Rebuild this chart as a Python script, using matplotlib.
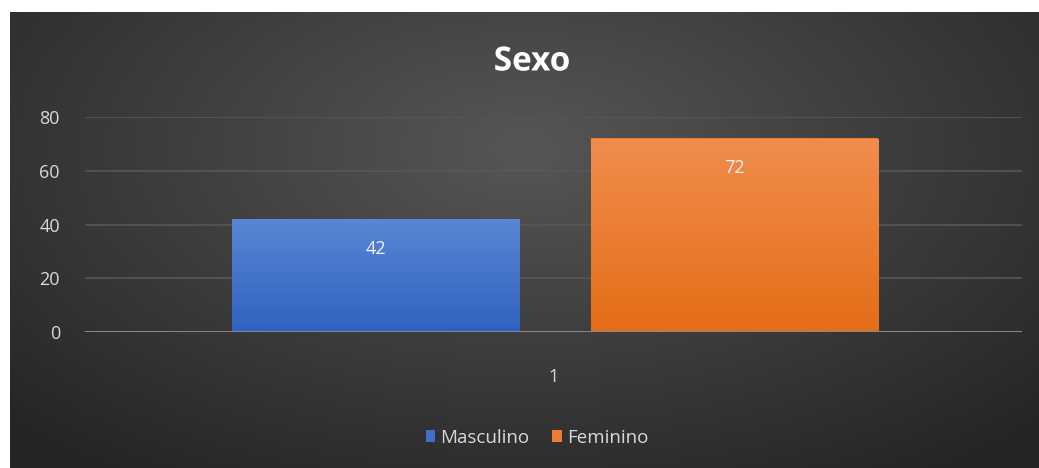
import numpy as np
import matplotlib.pyplot as plt
import matplotlib.patheffects as pe

categorias = ["1"]
series = ["Masculino", "Feminino"]
valores = [42, 72]
cores = ["#3f6fc8", "#ed7d31"]
cores_topo = ["#5a86d4", "#f18d4d"]
cores_base = ["#2f62c0", "#e46d17"]

W, H = 1039, 468
fig = plt.figure(figsize=(W / 100, H / 100), dpi=100)
fig.patch.set_facecolor("white")

# fundo com gradiente radial
bg = fig.add_axes([10 / W, 0, 1 - 10 / W, 1 - 12 / H])
bg.set_axis_off()
yy, xx = np.mgrid[-1:1:300j, -1:1:600j]
r = np.sqrt((xx * 0.85) ** 2 + ((yy + 0.4) * 0.7) ** 2)
r = np.clip(r / 1.2, 0, 1)
c0 = np.array([0x56, 0x56, 0x56]) / 255
c1 = np.array([0x25, 0x25, 0x25]) / 255
img = c0[None, None, :] * (1 - r[..., None]) + c1[None, None, :] * r[..., None]
bg.imshow(img, aspect="auto", extent=[0, 1, 0, 1])
bg.set_xlim(0, 1)
bg.set_ylim(0, 1)

ax = fig.add_axes([85 / W, 1 - 332 / H, (1022 - 85) / W, (332 - 117) / H])
ax.set_facecolor("none")

x = np.arange(len(categorias))
largura = 0.307
desloc = [-0.19, 0.193]
for i, (nome, v) in enumerate(zip(series, valores)):
    b = ax.bar(x + desloc[i], [v], largura, color=cores[i], label=nome, zorder=3)
    for rect in b:
        x0, x1 = rect.get_x(), rect.get_x() + rect.get_width()
        grad = np.linspace(0, 1, 100)[:, None]
        ct = np.array(plt.matplotlib.colors.to_rgb(cores_topo[i]))
        cb = np.array(plt.matplotlib.colors.to_rgb(cores_base[i]))
        gimg = ct[None, None, :] * (1 - grad[..., None]) + cb[None, None, :] * grad[..., None]
        gimg = np.repeat(gimg, 2, axis=1)
        im = ax.imshow(gimg, extent=[x0, x1, 0, v], aspect="auto", zorder=4)
        im.set_clip_path(rect)
        ax.text(rect.get_x() + rect.get_width() / 2, v - 11, str(v),
                ha="center", va="center", color="#f2f2f2", fontsize=13,
                family="Open Sans", zorder=5)
ax.set_xlim(-0.5, 0.5)
ax.set_ylim(0, 80)

ax.set_yticks(np.arange(0, 81, 20))
ax.set_xticks(x)
ax.set_xticklabels(categorias)
ax.yaxis.grid(True, color="#575757", linewidth=1.2, zorder=0)
ax.axhline(0, color="#8c8c8c", linewidth=2, zorder=6)
for s in ax.spines.values():
    s.set_visible(False)
ax.tick_params(axis="both", length=0, colors="#d9d9d9", labelsize=13)
ax.tick_params(axis="x", pad=26)
ax.tick_params(axis="y", pad=18)
for lbl in ax.get_xticklabels() + ax.get_yticklabels():
    lbl.set_family("Open Sans")

fig.text(532 / W, 1 - 62 / H, "Sexo", ha="center", va="center", color="white",
         fontsize=24, fontweight="bold", family="Open Sans",
         path_effects=[pe.withSimplePatchShadow(offset=(1.5, -1.5), alpha=0.6)])

leg = fig.legend(loc="center", bbox_to_anchor=(537 / W, 1 - 438 / H), ncol=2,
                 frameon=False, handlelength=0.5, handleheight=0.6,
                 handletextpad=0.3, columnspacing=1.2,
                 prop={"family": "Open Sans", "size": 13.5})
for t in leg.get_texts():
    t.set_color("#d9d9d9")

fig.savefig("out.png", dpi=100, facecolor=fig.get_facecolor())
